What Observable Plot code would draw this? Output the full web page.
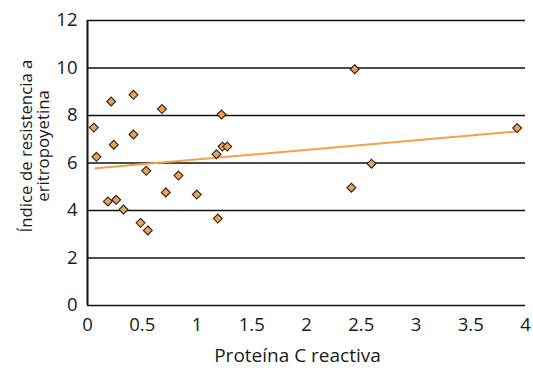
<!DOCTYPE html>
<html>
<head>
<meta charset="utf-8">
<script src="https://cdn.jsdelivr.net/npm/d3@7"></script>
<script src="https://cdn.jsdelivr.net/npm/@observablehq/plot@0.6"></script>
<style>
  html, body { margin: 0; padding: 0; background: #fff; }
  #chart svg { display: block; }
</style>
</head>
<body>
<div id="chart"></div>
<script>
// Proteína C reactiva (x) vs Índice de resistencia a eritropoyetina (y)
const pcr = [0.058, 0.216, 0.42, 0.68, 1.224, 0.42, 0.24, 0.082, 1.233, 1.276, 1.178, 0.536, 0.831,
             0.715, 0.998, 0.186, 0.262, 0.329, 0.484, 0.551, 1.19, 2.44, 2.594, 2.41, 3.924];
const iri = [7.49, 8.59, 8.87, 8.27, 8.04, 7.2, 6.77, 6.26, 6.69, 6.69, 6.37, 5.67, 5.47,
             4.76, 4.67, 4.38, 4.45, 4.04, 3.48, 3.16, 3.66, 9.95, 5.97, 4.96, 7.47];
// Trend line endpoints
const trendX = [0.073, 3.924];
const trendY = [5.78, 7.33];
const xTicks = [0, 0.5, 1, 1.5, 2, 2.5, 3, 3.5, 4];
const xTickLabels = ["0", "0.5", "1", "1.5", "2", "2.5", "3", "3.5", "4"];
const yTicks = [0, 2, 4, 6, 8, 10, 12];
const xTitle = "Proteína C reactiva";
const yTitle = "Índice de resistencia a\neritropoyetina";

const points = pcr.map((x, i) => ({x, y: iri[i]}));
const trend = trendX.map((x, i) => ({x, y: trendY[i]}));

const chart = Plot.plot({
  width: 533,
  height: 370,
  marginLeft: 87,
  marginRight: 8,
  marginTop: 20,
  marginBottom: 65,
  style: {fontFamily: "'Open Sans', sans-serif", fontSize: "18px", color: "#1a1a1a", background: "#fff"},
  x: {domain: [0, 4]},
  y: {domain: [0, 12]},
  marks: [
    Plot.ruleY(yTicks, {stroke: "#111", strokeWidth: 1.3}),
    Plot.ruleX([0], {stroke: "#111", strokeWidth: 2}),
    Plot.axisX({ticks: xTicks, tickFormat: (d, i) => xTickLabels[i], tickSize: 0, tickPadding: 12, label: null, fontSize: 18.5, fill: "#1a1a1a"}),
    Plot.axisY({ticks: yTicks, tickSize: 0, tickPadding: 10, label: null, fontSize: 18.5, fill: "#1a1a1a"}),
    Plot.text([xTitle], {frameAnchor: "bottom", dx: -9, dy: 56, fontSize: 19, fill: "#1a1a1a"}),
    Plot.text([yTitle], {frameAnchor: "left", textAnchor: "middle", dx: -52, dy: -17, rotate: -90, fontSize: 16.8, lineHeight: 1.0, fill: "#1a1a1a"}),
    Plot.line(trend, {x: "x", y: "y", stroke: "#f5a04c", strokeWidth: 2}),
    Plot.dot(points, {x: "x", y: "y", symbol: "diamond2", r: 4, fill: "#f0a050", stroke: "#222", strokeWidth: 1.1})
  ]
});
document.getElementById("chart").appendChild(chart);
</script>
</body>
</html>
